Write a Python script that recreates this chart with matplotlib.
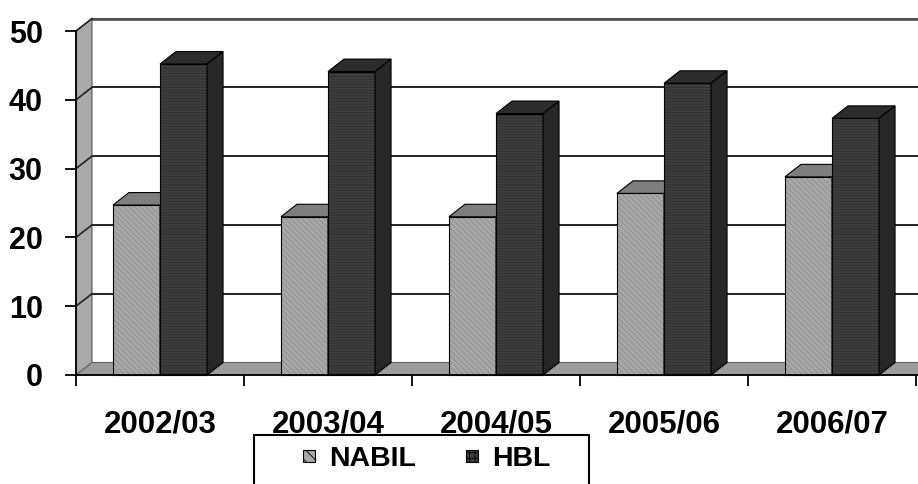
import matplotlib.pyplot as plt
from matplotlib.patches import Polygon, Rectangle, Patch

# Ratio values for the two banks, by fiscal year
years = ['2002/03', '2003/04', '2004/05', '2005/06', '2006/07']
nabil = [24.7, 23.0, 23.0, 26.4, 28.8]
hbl = [45.2, 44.1, 38.0, 42.4, 37.3]
yticks = [0, 10, 20, 30, 40, 50]

plt.rcParams['font.family'] = ['Liberation Sans', 'DejaVu Sans']
plt.rcParams['font.weight'] = 'bold'
plt.rcParams['hatch.linewidth'] = 0.6

fig = plt.figure(figsize=(9.18, 4.84), dpi=100)
ax = fig.add_axes([76 / 918, 109 / 484, 840 / 918, 344 / 484])
ax.set_xlim(-0.5, 4.5)
ax.set_ylim(0, 50)
ax.patch.set_alpha(0)

# pseudo-3d depth offset (data units)
DX = 16 / 168
DY = 12.5 / 6.88
XR = 5.2  # walls run off the right edge
W = 0.28

def poly(pts, fc, ec='black', lw=0.8, z=1, hatch=None, hc=None):
    if hatch:
        ax.add_patch(Polygon(pts, closed=True, facecolor=fc, edgecolor=hc, lw=0,
                             hatch=hatch, zorder=z, clip_on=False))
        ax.add_patch(Polygon(pts, closed=True, fill=False, edgecolor=ec, lw=lw,
                             zorder=z, clip_on=False))
    else:
        ax.add_patch(Polygon(pts, closed=True, facecolor=fc, edgecolor=ec, lw=lw,
                             zorder=z, clip_on=False))

x0 = -0.5
# left wall and floor
poly([(x0, 0), (x0, 50), (x0 + DX, 50 + DY), (x0 + DX, DY)], '#a9a9a9', ec='#555555', z=1)
poly([(x0, 0), (x0 + DX, DY), (XR + DX, DY), (XR, 0)], '#9c9c9c', ec='#666666', z=1)

# gridlines on back and side walls
for v in yticks[1:]:
    ax.plot([x0 + DX, XR + DX], [v + DY, v + DY], color='#222222', lw=1.4,
            zorder=0.5, clip_on=False)
    ax.plot([x0, x0 + DX], [v, v + DY], color='#222222', lw=1.2,
            zorder=1.5, clip_on=False)
ax.plot([x0 + DX, XR + DX], [50 + DY, 50 + DY], color='#555555', lw=2.0,
        zorder=0.5, clip_on=False)


def bar3d(left, v, front, top, side, hatch, hc):
    r = left + W
    poly([(left, 0), (r, 0), (r, v), (left, v)], front, z=3, hatch=hatch, hc=hc)
    poly([(left, v), (r, v), (r + DX, v + DY), (left + DX, v + DY)], top, z=3)
    poly([(r, 0), (r, v), (r + DX, v + DY), (r + DX, DY)], side, z=3)


for i in range(len(years)):
    bar3d(i - W, nabil[i], '#a8a8a8', '#7e7e7e', '#6e6e6e', '\\\\\\\\\\\\', '#8c8c8c')
    bar3d(i, hbl[i], '#3e3e3e', '#2c2c2c', '#272727', '------', '#2e2e2e')

# axes styling
for s in ['top', 'right']:
    ax.spines[s].set_visible(False)
ax.spines['left'].set_linewidth(1.3)
ax.spines['bottom'].set_linewidth(1.3)
ax.spines['bottom'].set_bounds(-0.5, 5.5)
ax.spines['left'].set_zorder(5)
ax.spines['bottom'].set_zorder(5)

ax.set_yticks(yticks)
ax.set_yticklabels([str(v) for v in yticks])
ax.set_xticks([i - 0.5 for i in range(len(years) + 1)], minor=False)
ax.set_xticklabels([])
ax.set_xticks(range(len(years)), minor=True)
ax.set_xticklabels(years, minor=True)
ax.tick_params(axis='x', which='major', direction='out', length=8, width=1.3)
ax.tick_params(axis='x', which='minor', length=0, pad=25, labelsize=22.5)
ax.tick_params(axis='y', direction='out', length=8, width=1.3, pad=16, labelsize=22)

# legend box drawn at figure level, cut by the lower edge
fig.patches.append(Rectangle((254 / 918, -0.05), 335 / 918, (49 / 484) + 0.05,
                             transform=fig.transFigure, fill=False,
                             edgecolor='black', lw=1.5))
handles = [Patch(facecolor='#a8a8a8', edgecolor='black', hatch='\\\\\\', lw=0.8),
           Patch(facecolor='#3e3e3e', edgecolor='black', hatch='+++', lw=0.8)]
fig.legend(handles, ['NABIL', 'HBL'], loc='center', ncol=2,
           bbox_to_anchor=(427 / 918, 1 - 459 / 484), frameon=False,
           prop={'size': 20.5, 'weight': 'bold'}, handlelength=0.42,
           handleheight=0.27, handletextpad=0.5, columnspacing=1.75,
           borderpad=0, borderaxespad=0)

fig.savefig('out.png', dpi=100)
